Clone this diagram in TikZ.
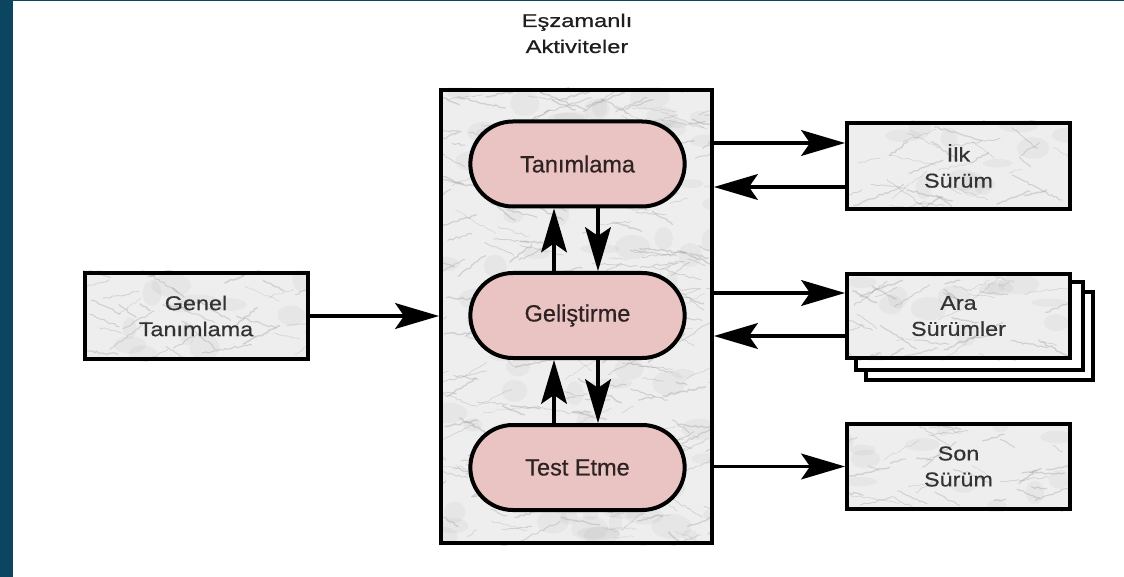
\documentclass[tikz,border=0pt]{standalone}
\usepackage{fontspec}
\setmainfont{Liberation Sans}[FakeBold=0.5]
\newfontfamily\titlefont{Liberation Sans}[FakeStretch=1.28, FakeBold=0.6]
\newfontfamily\boxfont{Liberation Sans}[FakeStretch=1.17, FakeBold=0.5]
\usetikzlibrary{arrows.meta,shapes.misc,backgrounds,decorations.pathmorphing}

\definecolor{frameblue}{HTML}{0B4560}
\definecolor{pillfill}{HTML}{EAC3C3}
\definecolor{marblebase}{HTML}{EEEEEE}
\definecolor{veincol}{HTML}{9A9A9A}
\definecolor{boxtext}{HTML}{333333}
\definecolor{pilltext}{HTML}{2E2222}
\definecolor{titletextcol}{HTML}{1E1E1E}

\tikzset{
  marblebox/.style={draw=black, line width=4pt, rectangle, minimum width=223pt,
    minimum height=86pt, align=center, text=boxtext,
    font=\boxfont\fontsize{20}{26}\selectfont},
  frame/.style={draw=black, line width=4pt, rectangle},
  pillbox/.style={draw=black, line width=4pt, rounded rectangle, fill=pillfill,
    minimum width=221pt, minimum height=85pt, text=pilltext,
    font=\fontsize{23.5}{28}\selectfont},
  stackbox/.style={draw=black, line width=4pt, fill=white},
  titletext/.style={text=titletextcol, font=\titlefont\fontsize{18.5}{26}\selectfont,
    inner sep=0pt},
  arr/.style={line width=3.5pt,
    -{Stealth[length=44pt, width=26pt, inset=9pt, line width=1.5pt]}},
  vein/.style={draw=veincol, opacity=0.35, line cap=round,
    decorate, decoration={random steps, segment length=3pt, amplitude=1.1pt}},
  blotch/.style={fill=gray, opacity=0.07},
}

% marble-like fill behind a node: base colour, soft blotches and thin veins
\makeatletter
\newcommand\marbletexture[3]{%
  \pgfpointanchor{#1}{south west}\xdef\mxa{\strip@pt\pgf@x}\xdef\mya{\strip@pt\pgf@y}%
  \pgfpointanchor{#1}{north east}\xdef\mxb{\strip@pt\pgf@x}\xdef\myb{\strip@pt\pgf@y}%
  \begin{scope}
    \clip (\mxa pt,\mya pt) rectangle (\mxb pt,\myb pt);
    \fill[marblebase] (\mxa pt,\mya pt) rectangle (\mxb pt,\myb pt);
    \foreach \k in {1,...,#3}{
      \pgfmathsetmacro\px{\mxa+rnd*(\mxb-\mxa)}
      \pgfmathsetmacro\py{\mya+rnd*(\myb-\mya)}
      \pgfmathsetmacro\rx{6+16*rnd}
      \pgfmathsetmacro\ry{4+9*rnd}
      \fill[blotch] (\px pt,\py pt) ellipse [x radius=\rx pt, y radius=\ry pt];
    }
    \foreach \k in {1,...,#2}{
      \pgfmathsetmacro\px{\mxa+rnd*(\mxb-\mxa)}
      \pgfmathsetmacro\py{\mya+rnd*(\myb-\mya)}
      \pgfmathsetmacro\an{-40+80*rnd+180*int(2*rnd)}
      \pgfmathsetmacro\ln{10+40*rnd}
      \pgfmathsetmacro\lw{0.4+1.1*rnd}
      \draw[vein, line width=\lw pt] (\px pt,\py pt) -- ++(\an:\ln pt);
    }
  \end{scope}}
\makeatother

\begin{document}
\begin{tikzpicture}[x=1pt, y=-1pt]
  \useasboundingbox (0,0) rectangle (1124,577);
  \pgfmathsetseed{17}

  % page edge bands
  \fill[frameblue] (0,0) rectangle (13,577);
  \fill[frameblue] (0,0) rectangle (1124,1.5);

  % heading
  \node[titletext, anchor=base] (title1) at (577,27) {Eşzamanlı};
  \node[titletext, anchor=base] (title2) at (577,53) {Aktiviteler};

  % concurrent activities frame and its stages
  \node[frame, minimum width=271pt, minimum height=453pt] (big) at (576.5,316.5) {};
  \node[pillbox] (tan) at (577.5,164) {Tanımlama};
  \node[pillbox] (gel) at (577.5,315.5) {Geliştirme};
  \node[pillbox] (tst) at (577.5,467.5) {Test Etme};

  % inputs and outputs
  \node[marblebox] (gen) at (196,316) {Genel\\Tanımlama};
  \node[marblebox] (ilk) at (958.5,166) {İlk\\Sürüm};
  \node[marblebox, minimum height=84pt] (ara) at (958.5,316) {Ara\\Sürümler};
  \node[marblebox, minimum height=85pt] (son) at (958.5,466.5) {Son\\Sürüm};

  % textures and the stacked copies behind the intermediate releases
  \begin{pgfonlayer}{background}
    \draw[stackbox] ([xshift=21pt,yshift=-20pt]ara.south west)
      rectangle ([xshift=21pt,yshift=-20pt]ara.north east);
    \draw[stackbox] ([xshift=11pt,yshift=-10pt]ara.south west)
      rectangle ([xshift=11pt,yshift=-10pt]ara.north east);
    \marbletexture{big}{300}{90}
    \marbletexture{gen}{40}{12}
    \marbletexture{ilk}{40}{12}
    \marbletexture{ara}{40}{12}
    \marbletexture{son}{40}{12}
  \end{pgfonlayer}

  % anchor points for the paired connectors
  \coordinate (ilkU) at ([yshift=23pt]ilk.west);
  \coordinate (ilkD) at ([yshift=-21pt]ilk.west);
  \coordinate (araU) at ([yshift=23pt]ara.west);
  \coordinate (araD) at ([yshift=-20pt]ara.west);

  % connectors
  \draw[arr] (gen.east) -- (gen.east -| big.west);
  \draw[arr] (big.east |- ilkU) -- (ilkU);
  \draw[arr] (ilkD) -- (big.east |- ilkD);
  \draw[arr] (big.east |- araU) -- (araU);
  \draw[arr] (araD) -- (big.east |- araD);
  \draw[arr] (big.east |- son.west) -- (son.west);

  \draw[arr] ([xshift=-23.5pt]gel.north) -- ([xshift=-23.5pt]tan.south);
  \draw[arr] ([xshift=20.5pt]tan.south) -- ([xshift=20.5pt]gel.north);
  \draw[arr] ([xshift=-23.5pt]tst.north) -- ([xshift=-23.5pt]gel.south);
  \draw[arr] ([xshift=20.5pt]gel.south) -- ([xshift=20.5pt]tst.north);
\end{tikzpicture}
\end{document}
